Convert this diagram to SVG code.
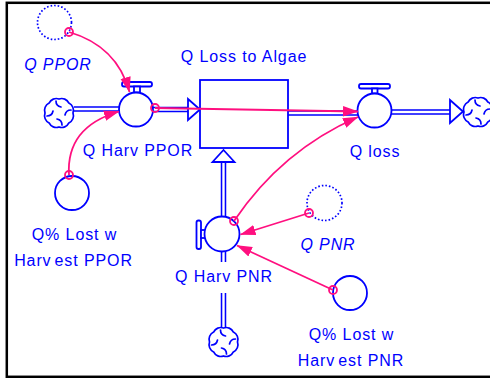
<svg xmlns="http://www.w3.org/2000/svg" width="490" height="378" viewBox="0 0 490 378">
  <defs>
    <style>
      .pipe-o{fill:none;stroke:#0000ff;stroke-width:5.5}
      .pipe-i{fill:none;stroke:#ffffff;stroke-width:2.4}
      .shape{fill:#ffffff;stroke:#0000ff;stroke-width:1.8}
      .ghost{fill:none;stroke:#0000ff;stroke-width:1.7;stroke-dasharray:1.6 2}
      .cloud{fill:#ffffff;stroke:#0000ff;stroke-width:1.7;stroke-linecap:round}
      .lbl{font-family:"Liberation Sans",Arial,sans-serif;font-size:16px;fill:#0000ff;text-anchor:middle;letter-spacing:0.9px}
      .it{font-style:italic}
      .bg{fill:#ffffff}
      .link{fill:none;stroke:#ff0f7f;stroke-width:1.8}
      .tail{fill:none;stroke:#ff0f7f;stroke-width:1.8}
    </style>
    <marker id="head" markerUnits="userSpaceOnUse" markerWidth="16" markerHeight="12" viewBox="0 0 16 12" refX="15" refY="6" orient="auto">
      <path d="M0,0.8 L15.5,6 L0,11.2 Z" fill="#ff0f7f"/>
    </marker>
    <!-- source/sink cloud -->
    <g id="cloud" class="cloud">
      <path d="M14,0 A8,8 0 0 1 9.9,9.9 A8,8 0 0 1 0,14 A8,8 0 0 1 -9.9,9.9 A8,8 0 0 1 -14,0 A8,8 0 0 1 -9.9,-9.9 A8,8 0 0 1 0,-14 A8,8 0 0 1 9.9,-9.9 A8,8 0 0 1 14,0 Z"/>
      <path d="M12,-3 Q7,-3 6,2 M3,12 Q3,7 -2,6 M-12,3 Q-7,3 -6,-2 M-3,-12 Q-3,-7 2,-6" fill="none"/>
    </g>
  </defs>

  <rect width="490" height="378" fill="#ffffff"/>
  <!-- outer frame -->
  <rect x="6.8" y="2.8" width="500" height="374" fill="none" stroke="#000000" stroke-width="2.5"/>

  <!-- flow pipes -->
  <g id="pipes">
    <path class="pipe-o" d="M74,109 H120 M152,109.5 H189 M287,113 H358 M391,112 H451 M223.5,327 V250 M223.5,218 V161"/>
    <path class="pipe-i" d="M74,109 H120 M152,109.5 H189 M287,113 H358 M391,112 H451 M223.5,327 V250 M223.5,218 V161"/>
    <path class="shape" d="M188,99 L200,109.5 L188,120 Z"/>
    <path class="shape" d="M450,100 L463,111.5 L450,123 Z"/>
    <path class="shape" d="M212.5,162 L223.5,150 L234.5,162 Z"/>
  </g>

  <!-- stock -->
  <g id="stock-q-loss-to-algae">
    <rect class="shape" x="200" y="80" width="88" height="68"/>
    <text class="lbl" x="244" y="62">Q Loss to Algae</text>
  </g>

  <!-- clouds -->
  <g id="cloud-ppor-source"><use href="#cloud" x="59" y="113"/></g>
  <g id="cloud-loss-sink"><use href="#cloud" x="478" y="112"/></g>
  <g id="cloud-pnr-source"><use href="#cloud" x="223.5" y="342"/></g>

  <!-- valves -->
  <g id="valve-q-harv-ppor">
    <rect class="shape" x="122" y="82" width="30" height="4.5" rx="2"/>
    <rect class="shape" x="134" y="86.5" width="6" height="6"/>
    <circle class="shape" cx="136" cy="109.5" r="17"/>
    <rect class="bg" x="77" y="138" width="122" height="24"/>
    <text class="lbl" x="138" y="156">Q Harv  PPOR</text>
  </g>
  <g id="valve-q-loss">
    <rect class="shape" x="359" y="84" width="31" height="4.5" rx="2"/>
    <rect class="shape" x="372" y="88.5" width="5.5" height="5"/>
    <circle class="shape" cx="374.5" cy="110.5" r="17"/>
    <text class="lbl" x="375" y="157">Q loss</text>
  </g>
  <g id="valve-q-harv-pnr">
    <rect class="shape" x="196.5" y="220.5" width="4.5" height="28.5" rx="2"/>
    <rect class="shape" x="201" y="230" width="4.5" height="8"/>
    <circle class="shape" cx="222" cy="234" r="17.5"/>
    <rect class="bg" x="168" y="262" width="112" height="31"/>
    <text class="lbl" x="224" y="281.5">Q Harv PNR</text>
  </g>

  <!-- auxiliaries -->
  <g id="aux-lost-ppor">
    <circle class="shape" cx="72" cy="193" r="17"/>
    <text class="lbl" x="74.5" y="240">Q% Lost w</text>
    <text class="lbl" x="73.5" y="265.5"><tspan>Harv</tspan><tspan dx="3">est PPOR</tspan></text>
  </g>
  <g id="aux-lost-pnr">
    <circle class="shape" cx="350" cy="293" r="17"/>
    <text class="lbl" x="351.5" y="339.5">Q% Lost w</text>
    <text class="lbl" x="351" y="366"><tspan>Harv</tspan><tspan dx="3">est PNR</tspan></text>
  </g>

  <!-- shadow variables -->
  <g id="ghost-q-ppor">
    <circle class="ghost" cx="54.5" cy="22.5" r="17"/>
    <text class="lbl it" x="58" y="69.5">Q PPOR</text>
  </g>
  <g id="ghost-q-pnr">
    <circle class="ghost" cx="324.5" cy="203" r="17.5"/>
    <text class="lbl it" x="328" y="249.5">Q PNR</text>
  </g>

  <!-- information links -->
  <g id="links">
    <path class="link" marker-end="url(#head)" d="M69,32 Q117,46 129.5,92"/>
    <path class="link" marker-end="url(#head)" d="M69,175 Q66,127 119,111.5"/>
    <path class="link" marker-end="url(#head)" d="M155,108 L358,111.5"/>
    <path class="link" marker-end="url(#head)" d="M234,221 Q282,150 358,117"/>
    <path class="link" marker-end="url(#head)" d="M309,213 L240.5,234.5"/>
    <path class="link" marker-end="url(#head)" d="M333,290 L237,245.5"/>
    <circle class="tail" cx="69" cy="32" r="4"/>
    <circle class="tail" cx="69" cy="175" r="4"/>
    <circle class="tail" cx="155" cy="108" r="4"/>
    <circle class="tail" cx="234" cy="221" r="4"/>
    <circle class="tail" cx="309" cy="213" r="4"/>
    <circle class="tail" cx="333" cy="290" r="4"/>
  </g>
</svg>
